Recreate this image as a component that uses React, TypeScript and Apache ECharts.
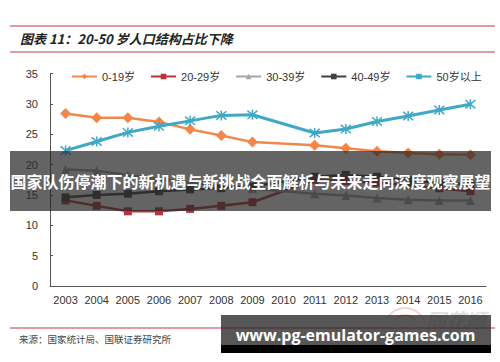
import React, { useEffect, useRef } from "react";
import * as echarts from "echarts";

const years = ["2003", "2004", "2005", "2006", "2007", "2008", "2009", "2010", "2011", "2012", "2013", "2014", "2015", "2016"];
const seriesNames = ["0-19岁", "20-29岁", "30-39岁", "40-49岁", "50岁以上"];
const age0to19 = [28.4, 27.7, 27.7, 27.0, 25.8, 24.8, 23.7, null, 23.2, 22.7, 22.2, 21.9, 21.7, 21.6];
const age20to29 = [14.1, 13.2, 12.3, 12.3, 12.7, 13.2, 13.8, null, 17.5, 17.3, 17.0, 16.6, 16.1, 15.6];
const age30to39 = [19.2, 19.0, 18.3, 17.6, 17.0, 16.5, 16.0, null, 15.2, 14.9, 14.5, 14.2, 14.1, 14.1];
const age40to49 = [14.6, 15.0, 15.2, 15.6, 15.9, 16.1, 16.4, null, 18.0, 18.3, 18.0, 17.4, 17.0, 16.7];
const age50plus = [22.3, 23.8, 25.3, 26.3, 27.2, 28.1, 28.2, null, 25.2, 25.85, 27.1, 28.0, 29.0, 29.95];
const yTicks = { min: 0, max: 35, interval: 5 };

const titleText = "图表 11：20-50 岁人口结构占比下降";
const sourceText = "来源：国家统计局、国联证券研究所";
const bannerText = "国家队伤停潮下的新机遇与新挑战全面解析与未来走向深度观察展望";
const siteText = "www.pg-emulator-games.com";

const starPath = "path://M0,0L10,10M10,0L0,10M5,-1L5,11";

export default function App() {
  const ref = useRef<HTMLDivElement>(null);
  useEffect(() => {
    document.body.style.margin = "0";
    if (!ref.current) return;
    const chart = echarts.init(ref.current, undefined, { renderer: "svg" });
    const latin = "'Liberation Sans', Arial, 'Noto Sans CJK SC', sans-serif";
    const mk = (name: string, data: (number | null)[], color: string, symbol: string, size: number, lw: number, extra: any = {}) => ({
      name,
      type: "line",
      data,
      connectNulls: true,
      symbol,
      symbolSize: size,
      lineStyle: { color, width: lw },
      itemStyle: { color, borderColor: color, borderWidth: 0, ...extra },
      emphasis: { disabled: true },
    });
    chart.setOption({
      animation: false,
      backgroundColor: "#ffffff",
      legend: {
        top: 66,
        left: 66,
        itemWidth: 25,
        itemHeight: 7,
        itemGap: 15,
        textStyle: { fontSize: 11, color: "#333", fontFamily: latin },
        data: seriesNames,
      },
      grid: { left: 50, right: 14, top: 73.5, bottom: 76 },
      xAxis: {
        type: "category",
        data: years,
        boundaryGap: true,
        axisLine: { lineStyle: { color: "#555", width: 1 } },
        axisTick: { inside: true, length: 3, lineStyle: { color: "#555" } },
        axisLabel: { interval: 0, fontSize: 11, color: "#333", margin: 8, fontFamily: latin },
      },
      yAxis: {
        type: "value",
        min: yTicks.min,
        max: yTicks.max,
        interval: yTicks.interval,
        axisLine: { show: true, lineStyle: { color: "#555", width: 1 } },
        axisTick: { show: true, inside: true, length: 3, lineStyle: { color: "#555" } },
        splitLine: { show: false },
        axisLabel: { fontSize: 11, color: "#333", margin: 12, fontFamily: latin },
      },
      series: [
        mk(seriesNames[0], age0to19, "#f2874b", "diamond", 11, 2.5),
        mk(seriesNames[1], age20to29, "#b8343a", "rect", 8, 2.5),
        mk(seriesNames[2], age30to39, "#a5a5a5", "triangle", 9, 2.5),
        mk(seriesNames[3], age40to49, "#404040", "rect", 8, 2.5),
        mk(seriesNames[4], age50plus, "#3fa8c6", starPath, 10, 3, { borderWidth: 1.5, color: "none" }),
      ],
      graphic: [
        { type: "line", z: 100, shape: { x1: 10, y1: 26, x2: 495, y2: 26 }, style: { stroke: "#c8374a", lineWidth: 1.2 } },
        { type: "line", z: 100, shape: { x1: 10, y1: 52, x2: 495, y2: 52 }, style: { stroke: "#c8374a", lineWidth: 1.2 } },
        {
          type: "text",
          z: 100,
          x: 20,
          y: 38,
          style: {
            text: titleText,
            fontSize: 13,
            fontWeight: "bold",
            fontStyle: "italic",
            fill: "#222",
            fontFamily: "'Noto Sans CJK SC', sans-serif",
            verticalAlign: "middle",
          },
        },
        {
          type: "arc",
          z: 100,
          shape: { cx: 405, cy: 328, r: 20, startAngle: Math.PI * 1.15, endAngle: Math.PI * 1.85 },
          style: { stroke: "rgba(230,120,130,0.35)", lineWidth: 2, fill: "none" },
        },
        {
          type: "arc",
          z: 100,
          shape: { cx: 405, cy: 328, r: 13, startAngle: Math.PI * 1.2, endAngle: Math.PI * 1.8 },
          style: { stroke: "rgba(230,120,130,0.35)", lineWidth: 2, fill: "none" },
        },
        {
          type: "text",
          z: 100,
          x: 426,
          y: 319,
          style: {
            text: "同花顺",
            fontSize: 20,
            fontWeight: "bold",
            fontStyle: "italic",
            fill: "rgba(170,170,170,0.35)",
            fontFamily: "'Noto Sans CJK SC', sans-serif",
            verticalAlign: "middle",
          },
        },
        { type: "line", z: 101, shape: { x1: 10, y1: 328, x2: 495, y2: 328 }, style: { stroke: "#c8374a", lineWidth: 1.2 } },
        {
          type: "text",
          z: 101,
          x: 19,
          y: 339,
          style: {
            text: sourceText,
            fontSize: 9.5,
            fill: "#444",
            fontFamily: "'Noto Sans CJK SC', sans-serif",
            verticalAlign: "middle",
          },
        },
        { type: "rect", z: 200, shape: { x: 10, y: 151, width: 481, height: 60 }, style: { fill: "rgba(40,40,40,0.72)" } },
        {
          type: "text",
          z: 201,
          x: 250.5,
          y: 181,
          style: {
            text: bannerText,
            fontSize: 16,
            fontWeight: "bold",
            fill: "#ffffff",
            fontFamily: "'Noto Sans CJK SC', sans-serif",
            align: "center",
            verticalAlign: "middle",
          },
        },
        { type: "rect", z: 200, shape: { x: 221, y: 315, width: 270, height: 30 }, style: { fill: "rgba(40,40,40,0.78)" } },
        { type: "rect", z: 200, shape: { x: 221, y: 345, width: 270, height: 8 }, style: { fill: "#000000" } },
        {
          type: "text",
          z: 201,
          x: 355.5,
          y: 335,
          style: {
            text: siteText,
            fontSize: 16,
            fontWeight: "bold",
            fill: "#ffffff",
            fontFamily: "'Open Sans', 'DejaVu Sans', sans-serif",
            align: "center",
            verticalAlign: "middle",
          },
        },
      ],
    });
    return () => chart.dispose();
  }, []);
  return <div ref={ref} style={{ width: 500, height: 362 }} />;
}
